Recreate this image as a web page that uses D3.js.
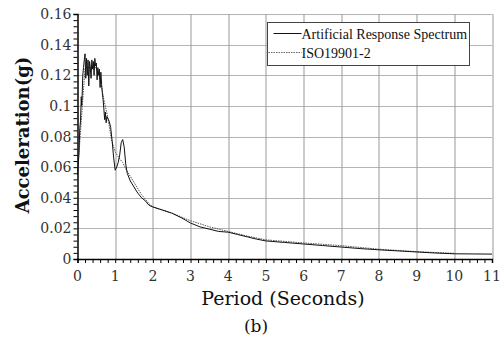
<!DOCTYPE html>
<html>
<head>
<meta charset="utf-8">
<script src="https://cdn.jsdelivr.net/npm/d3@7"></script>
<style>
  body { margin: 0; background: #fff; }
  svg { display: block; }
</style>
</head>
<body>
<div id="chart"></div>
<script>
// periods (s) and spectral acceleration (g)
var artPeriod = [0, 0.02, 0.04, 0.06, 0.08, 0.10, 0.11, 0.12, 0.14, 0.16, 0.18, 0.20, 0.22, 0.24, 0.26, 0.28,
    0.30, 0.32, 0.34, 0.36, 0.38, 0.40, 0.42, 0.44, 0.46, 0.48, 0.50, 0.52, 0.54, 0.56, 0.58, 0.60,
    0.62, 0.64, 0.66, 0.68, 0.70, 0.72, 0.74, 0.76, 0.78, 0.80, 0.84, 0.88, 0.92, 0.96, 1.00, 1.04,
    1.08, 1.12, 1.16, 1.20, 1.24, 1.28, 1.32, 1.40, 1.50, 1.60, 1.70, 1.80, 1.90, 2.00, 2.25, 2.50,
    2.75, 3.00, 3.25, 3.50, 3.75, 4.00, 4.25, 4.50, 4.75, 5.00, 5.5, 6.0, 6.5, 7.0, 7.5, 8.0,
    8.5, 9.0, 9.5, 10.0, 10.5, 11.0];
var artAccel = [0.055, 0.062, 0.070, 0.085, 0.090, 0.106, 0.100, 0.104, 0.120, 0.125, 0.130, 0.134, 0.118, 0.131, 0.120, 0.130,
    0.113, 0.129, 0.125, 0.118, 0.130, 0.124, 0.129, 0.120, 0.131, 0.126, 0.128, 0.117, 0.125, 0.120, 0.124, 0.112,
    0.122, 0.114, 0.108, 0.104, 0.098, 0.091, 0.096, 0.089, 0.093, 0.092, 0.090, 0.086, 0.077, 0.066, 0.058, 0.060,
    0.063, 0.068, 0.076, 0.078, 0.073, 0.062, 0.056, 0.051, 0.047, 0.043, 0.040, 0.038, 0.035, 0.034, 0.032, 0.030,
    0.027, 0.0235, 0.021, 0.0195, 0.018, 0.0175, 0.016, 0.0145, 0.013, 0.0118, 0.0108, 0.0098, 0.0088, 0.0078, 0.0068, 0.0060,
    0.0053, 0.0046, 0.0039, 0.0034, 0.0033, 0.0032];

var isoPeriod = [0, 0.1, 0.2, 0.5, 0.6, 0.7, 0.8, 0.9, 1.0, 1.1, 1.2, 1.3, 1.5, 1.7, 1.9, 2.0,
    2.5, 3.0, 3.5, 4.0, 4.5, 5.0, 6, 7, 8, 9, 10];
var isoAccel = [0.055, 0.09, 0.125, 0.125, 0.118, 0.104, 0.093, 0.078, 0.070, 0.066, 0.063, 0.058, 0.050, 0.042, 0.036, 0.034,
    0.030, 0.025, 0.021, 0.018, 0.015, 0.0125, 0.0105, 0.0087, 0.0064, 0.0048, 0.0037];

var xTicks = [0, 1, 2, 3, 4, 5, 6, 7, 8, 9, 10, 11];
var yTicks = [0, 0.02, 0.04, 0.06, 0.08, 0.1, 0.12, 0.14, 0.16];
var seriesNames = ["Artificial Response Spectrum", "ISO19901-2"];

var margin = {top: 14, right: 8, bottom: 81, left: 77.5},
    width = 500 - margin.left - margin.right,
    height = 340 - margin.top - margin.bottom;

var svg = d3.select("#chart")
  .append("svg")
    .attr("width", 500)
    .attr("height", 340);

var g = svg.append("g")
    .attr("transform", "translate(" + margin.left + "," + margin.top + ")");

var x = d3.scaleLinear().domain([0, 11]).range([0, width]);
var y = d3.scaleLinear().domain([0, 0.16]).range([height, 0]);

// grid
g.selectAll(".hgrid")
  .data(yTicks.slice(1))
  .enter().append("line")
    .attr("x1", 0).attr("x2", width)
    .attr("y1", function(d) { return Math.round(y(d)) + 0.5; })
    .attr("y2", function(d) { return Math.round(y(d)) + 0.5; })
    .attr("stroke", "#b4b4b4");
g.selectAll(".vgrid")
  .data(xTicks.slice(1))
  .enter().append("line")
    .attr("y1", 0).attr("y2", height)
    .attr("x1", function(d) { return Math.round(x(d)) + 0.5; })
    .attr("x2", function(d) { return Math.round(x(d)) + 0.5; })
    .attr("stroke", "#999");

var tickFont = "14px 'DejaVu Serif'";

// x axis
var xAxis = g.append("g")
    .attr("transform", "translate(0," + height + ")")
    .call(d3.axisBottom(x).tickValues(d3.range(0, 11.01, 0.2)).tickSize(4).tickFormat(""));
xAxis.select(".domain").attr("stroke", "#000").attr("stroke-width", 1.5);
xAxis.selectAll(".tick line").attr("stroke", "#000");
g.append("g")
    .selectAll("text")
    .data(xTicks)
    .enter().append("text")
      .attr("x", function(d) { return x(d); })
      .attr("y", height + 22)
      .attr("text-anchor", "middle")
      .style("font", tickFont)
      .attr("fill", "#333")
      .text(function(d) { return d; });

// y axis
var yAxis = g.append("g")
    .call(d3.axisLeft(y).tickValues(d3.range(0, 0.1601, 0.004)).tickSize(4).tickFormat(""));
yAxis.select(".domain").attr("stroke", "#000").attr("stroke-width", 1.5);
yAxis.selectAll(".tick line").attr("stroke", "#000");
g.append("g")
    .selectAll("text")
    .data(yTicks)
    .enter().append("text")
      .attr("x", -6)
      .attr("y", function(d) { return y(d) + 5; })
      .attr("text-anchor", "end")
      .style("font", tickFont)
      .attr("fill", "#333")
      .text(function(d) { return d; });

// curves
var line = d3.line()
    .x(function(d) { return x(d[0]); })
    .y(function(d) { return y(d[1]); });

g.append("path")
    .datum(d3.zip(isoPeriod, isoAccel))
    .attr("fill", "none")
    .attr("stroke", "#555")
    .attr("stroke-width", 1)
    .attr("stroke-dasharray", "1.5,1")
    .attr("d", line);

g.append("path")
    .datum(d3.zip(artPeriod, artAccel))
    .attr("fill", "none")
    .attr("stroke", "#111")
    .attr("stroke-width", 1)
    .attr("d", line);

// legend
var legend = svg.append("g").attr("transform", "translate(267.5,22.5)");
legend.append("rect")
    .attr("width", 202).attr("height", 43)
    .attr("fill", "#fff")
    .attr("stroke", "#444");
seriesNames.forEach(function(name, i) {
    legend.append("line")
        .attr("x1", i === 0 ? 6 : 1).attr("x2", 34)
        .attr("y1", 11 + i * 19).attr("y2", 11 + i * 19)
        .attr("stroke", i === 0 ? "#111" : "#666")
        .attr("stroke-dasharray", i === 0 ? null : "1.5,1");
    legend.append("text")
        .attr("x", 34).attr("y", 16 + i * 19)
        .style("font", "14px 'Liberation Serif'")
        .attr("fill", "#111")
        .text(name);
});

// titles
svg.append("text")
    .attr("x", 283).attr("y", 305)
    .attr("text-anchor", "middle")
    .style("font", "19px 'DejaVu Serif'")
    .attr("fill", "#111")
    .text("Period (Seconds)");

svg.append("text")
    .attr("transform", "translate(29,135) rotate(-90)")
    .attr("text-anchor", "middle")
    .style("font", "bold 18px 'DejaVu Serif'")
    .attr("fill", "#111")
    .text("Acceleration(g)");

svg.append("text")
    .attr("x", 256).attr("y", 332)
    .attr("text-anchor", "middle")
    .style("font", "17px 'DejaVu Serif'")
    .attr("fill", "#111")
    .text("(b)");
</script>
</body>
</html>
